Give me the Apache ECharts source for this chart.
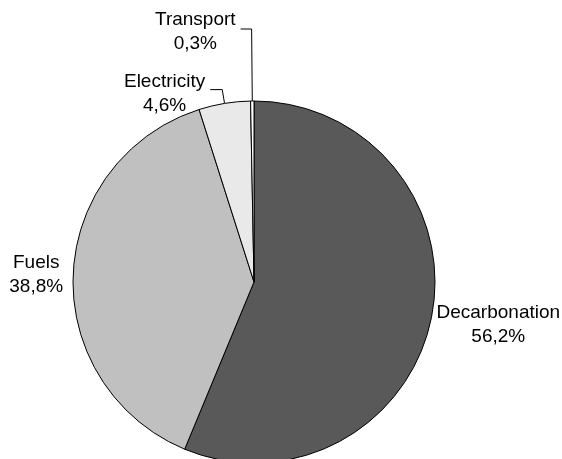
<!DOCTYPE html>
<html>
<head>
<meta charset="utf-8">
<script src="https://cdn.jsdelivr.net/npm/echarts@6/dist/echarts.min.js"></script>
<style>
  html, body { margin: 0; padding: 0; background: #fff; }
  #chart { width: 562px; height: 459px; }
</style>
</head>
<body>
<div id="chart"></div>
<script>
// 資料
const categories = ['Decarbonation', 'Fuels', 'Electricity', 'Transport']
const shares = [56.2, 38.8, 4.6, 0.3]
const colors = ['#595959', '#c0c0c0', '#e9e9e9', '#ffffff']

// 每個標籤的引線與位移
const lineLens = [0, 5, 14, 72]
const lineLens2 = [0, 0, 12, 11]
const showLines = [false, false, true, true]
const labelPads = [[14, 0, 0, 0], [2, 0, 0, 0], [8, 0, 0, 0], [6, 0, 0, 0]]

const chart = echarts.init(document.getElementById('chart'))

const fmt = v => v.toFixed(1).replace('.', ',') + '%'

const option = {
  animation: false,
  series: [
    {
      type: 'pie',
      center: [254, 282],
      radius: 181,
      startAngle: 90,
      clockwise: true,
      avoidLabelOverlap: false,
      itemStyle: { borderColor: '#000', borderWidth: 1 },
      label: {
        show: true,
        position: 'outside',
        overflow: 'none',
        color: '#000',
        fontFamily: 'Liberation Sans, Arial, sans-serif',
        fontSize: 19,
        lineHeight: 24,
        formatter: p => '{n|' + p.name + '}\n{n|' + fmt(p.value) + '}',
        rich: {
          n: { align: 'center', fontSize: 19, lineHeight: 24, color: '#000', fontFamily: 'Liberation Sans, Arial, sans-serif' }
        }
      },
      labelLine: { lineStyle: { color: '#000', width: 1 } },
      data: categories.map((name, i) => ({
        name: name,
        value: shares[i],
        itemStyle: { color: colors[i] },
        label: { padding: labelPads[i] },
        labelLine: { show: showLines[i], length: lineLens[i], length2: lineLens2[i] }
      }))
    }
  ]
}

chart.setOption(option)
</script>
</body>
</html>
